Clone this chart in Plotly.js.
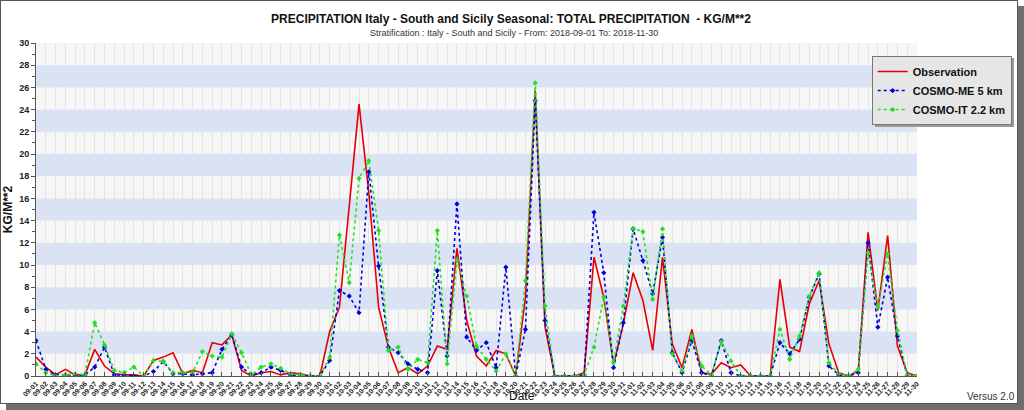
<!DOCTYPE html>
<html>
<head>
<meta charset="utf-8">
<script src="https://cdn.plot.ly/plotly-3.0.1.min.js"></script>
<style>
html,body{margin:0;padding:0;background:#fff;width:1024px;height:410px;overflow:hidden;}
#frame{position:absolute;left:0;top:0;width:1016px;height:402px;border:1px solid #555;background:#fff;box-shadow:6px 6px 0 #6e6e6e;}
#chart{position:absolute;left:0;top:0;width:1016px;height:402px;}
</style>
</head>
<body>
<div id="frame"><div id="chart"></div></div>
<script>
// Date tick labels (2018-09-01 .. 2018-11-30)
var months = ['09', '10', '11'];
var monthDays = [30, 31, 30];
var dates = [];
for (var m = 0; m < months.length; m++) {
  for (var d = 1; d <= monthDays[m]; d++) {
    dates.push(months[m] + '-' + (d < 10 ? '0' + d : '' + d));
  }
}

var observation = [
  1.7, 0.8, 0.1, 0.6, 0.1, 0.1, 2.4, 0.9, 0.2, 0.1,
  0.1, 0.0, 1.4, 1.7, 2.1, 0.2, 0.5, 0.3, 3.0, 2.8,
  3.7, 0.5, 0.0, 0.3, 0.4, 0.1, 0.3, 0.2, 0.0, 0.0,
  4.0, 6.2, 15.3, 24.5, 16.5, 6.2, 2.6, 0.3, 0.75, 0.2,
  0.9, 2.7, 2.4, 11.5, 5.0, 1.8, 0.9, 2.3, 2.0, 0.0,
  7.1, 25.7, 4.4, 0.0, 0.0, 0.0, 0.3, 10.7, 7.1, 1.05,
  4.7, 9.3, 6.8, 2.3, 10.7, 2.9, 0.75, 4.2, 0.3, 0.15,
  1.2, 0.75, 1.0, 0.0, 0.0, 0.0, 8.7, 2.6, 2.2, 6.5,
  8.6, 2.9, 0.3, 0.0, 0.45, 12.95, 5.9, 12.65, 2.7, 0.3,
  0.0
];
var cosmoME = [
  3.2, 0.6, 0.1, 0.1, 0.1, 0.1, 0.8, 2.6, 0.1, 0.1,
  0.0, 0.0, 0.4, 1.3, 0.2, 0.2, 0.1, 0.2, 0.3, 2.4,
  3.7, 0.8, 0.1, 0.3, 0.8, 0.5, 0.1, 0.0, 0.0, 0.0,
  1.4, 7.7, 7.2, 5.7, 18.4, 9.9, 2.6, 2.1, 1.1, 0.6,
  0.3, 9.5, 1.8, 15.5, 3.5, 2.3, 3.0, 0.75, 9.8, 0.0,
  4.2, 24.8, 5.0, 0.0, 0.0, 0.0, 0.1, 14.75, 9.3, 0.75,
  4.8, 13.25, 10.4, 7.4, 12.5, 2.1, 0.3, 3.2, 0.3, 0.0,
  3.2, 0.3, 0.0, 0.0, 0.0, 0.0, 3.0, 2.0, 3.3, 7.1,
  9.2, 0.9, 0.1, 0.0, 0.3, 12.0, 4.4, 8.9, 3.6, 0.0,
  0.0
];
var cosmoIT = [
  1.1, 0.3, 0.0, 0.1, 0.2, 0.1, 4.8, 2.8, 0.5, 0.3,
  0.8, 0.0, 1.4, 1.3, 0.3, 0.3, 0.3, 2.2, 1.8, 1.7,
  3.8, 2.1, 0.1, 0.8, 1.1, 0.7, 0.2, 0.1, 0.0, 0.0,
  1.7, 12.7, 8.4, 17.8, 19.4, 13.1, 2.3, 2.6, 0.6, 1.5,
  1.2, 13.1, 1.1, 10.4, 7.2, 2.7, 1.5, 0.45, 2.0, 0.0,
  8.6, 26.4, 6.3, 0.0, 0.0, 0.0, 0.1, 2.6, 7.1, 1.2,
  6.3, 13.3, 13.0, 6.9, 13.25, 2.0, 0.45, 3.6, 0.9, 0.1,
  3.1, 1.35, 0.0, 0.0, 0.0, 0.0, 4.2, 1.5, 3.6, 7.2,
  9.3, 1.2, 0.2, 0.0, 0.6, 11.1, 6.2, 11.0, 4.1, 0.1,
  0.0
];
var seriesNames = ['Observation', 'COSMO-ME 5 km', 'COSMO-IT 2.2 km'];
var bandEdges = [2, 6, 10, 14, 18, 22, 26];

var FONT = 'Liberation Sans, Arial, sans-serif';

var traces = [
  {x: dates, y: observation, name: seriesNames[0], type: 'scatter', mode: 'lines',
   line: {color: '#e60000', width: 1.6}},
  {x: dates, y: cosmoME, name: seriesNames[1], type: 'scatter', mode: 'lines+markers',
   line: {color: '#0000dd', width: 1.6, dash: 'dot'},
   marker: {symbol: 'diamond', size: 4, color: '#0000dd'}},
  {x: dates, y: cosmoIT, name: seriesNames[2], type: 'scatter', mode: 'lines+markers',
   line: {color: '#22e022', width: 1.6, dash: 'dot'},
   marker: {symbol: 'diamond', size: 4, color: '#22e022'}}
];

var shapes = bandEdges.map(function (b) {
  return {type: 'rect', xref: 'paper', yref: 'y', x0: 0, x1: 1, y0: b, y1: b + 2,
          fillcolor: '#dae3f6', line: {width: 0}, layer: 'below'};
});
// legend drop shadow
shapes.push({type: 'rect', xref: 'paper', yref: 'paper', x0: 0.9523, x1: 1.1101, y0: 0.748, y1: 0.955,
             fillcolor: '#9a9a9a', line: {width: 0}, layer: 'above'});

var layout = {
  width: 1016, height: 402,
  margin: {l: 35, r: 100, t: 42, b: 27, autoexpand: false},
  paper_bgcolor: 'rgba(0,0,0,0)',
  plot_bgcolor: '#f6f6f6',
  font: {family: FONT, color: '#222'},
  title: {
    text: '<b>PRECIPITATION Italy - South and Sicily Seasonal: TOTAL PRECIPITATION  - KG/M**2</b>',
    font: {family: FONT, size: 12, color: '#111'},
    xref: 'container', yref: 'container',
    x: 0.502, xanchor: 'center', y: 0.955, yanchor: 'middle'
  },
  showlegend: true,
  legend: {
    xref: 'container', yref: 'container',
    x: 0.857, y: 0.863, xanchor: 'left', yanchor: 'top',
    bgcolor: '#e6e6e6', bordercolor: '#777', borderwidth: 1,
    font: {family: FONT, size: 11, weight: 'bold', color: '#111'},
    tracegroupgap: 0, itemwidth: 30
  },
  xaxis: {
    type: 'category', range: [0, 90], automargin: false,
    tickmode: 'linear', dtick: 1, tick0: 0,
    showgrid: true, gridcolor: '#e3e3e3', gridwidth: 1,
    showline: true, linecolor: '#555', linewidth: 1,
    ticks: 'inside', ticklen: 4, tickcolor: '#555',
    tickangle: -45,
    tickfont: {family: FONT, size: 7, weight: 'bold', color: '#222'},
    zeroline: false, fixedrange: true
  },
  yaxis: {
    range: [0, 30], dtick: 2, tick0: 0, automargin: false,
    showgrid: false, zeroline: false,
    showline: true, linecolor: '#555', linewidth: 1,
    ticks: 'outside', ticklen: 4, tickcolor: '#555',
    minor: {dtick: 1, ticks: 'outside', ticklen: 3, tickcolor: '#555', showgrid: false},
    tickfont: {family: FONT, size: 9, weight: 'bold', color: '#222'},
    title: {text: 'KG/M**2', font: {family: FONT, size: 12, weight: 'bold', color: '#111'}, standoff: 4},
    fixedrange: true
  },
  shapes: shapes,
  annotations: [
    {text: 'Stratification : Italy - South and Sicily - From: 2018-09-01 To: 2018-11-30',
     xref: 'paper', yref: 'paper', x: 0.542, y: 1, yshift: 10, xanchor: 'center', yanchor: 'middle',
     showarrow: false, font: {family: FONT, size: 9, color: '#333'}},
    {text: 'Date', xref: 'paper', yref: 'paper', x: 0.552, y: 0, yshift: -20, xanchor: 'center', yanchor: 'middle',
     showarrow: false, font: {family: FONT, size: 12, color: '#111'}},
    {text: 'Versus 2.0', xref: 'paper', yref: 'paper', x: 1, xshift: 100, y: 0, yshift: -20, xanchor: 'right', yanchor: 'middle',
     showarrow: false, font: {family: FONT, size: 10, color: '#333'}}
  ]
};

Plotly.newPlot('chart', traces, layout, {displayModeBar: false, staticPlot: true});
</script>
</body>
</html>
